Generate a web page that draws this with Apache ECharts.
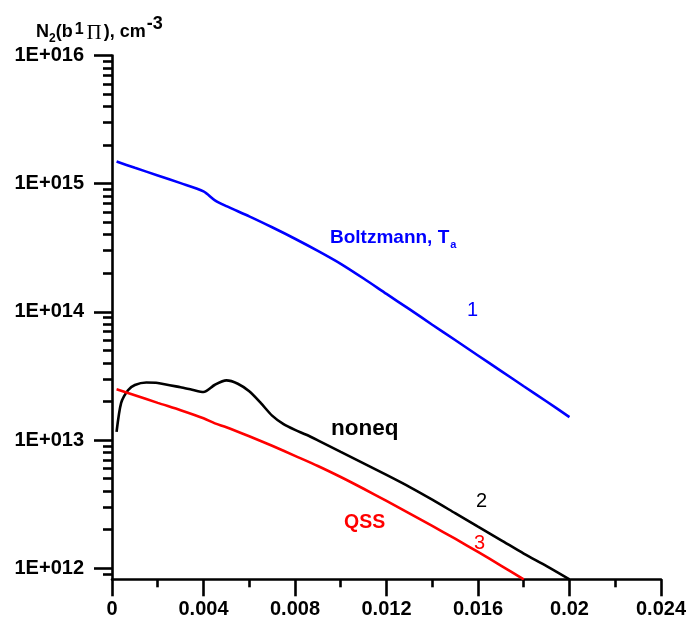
<!DOCTYPE html>
<html>
<head>
<meta charset="utf-8">
<script src="https://cdn.jsdelivr.net/npm/echarts@6/dist/echarts.min.js"></script>
<style>
  html, body { margin: 0; padding: 0; background: #ffffff; }
  #chart { width: 689px; height: 626px; }
</style>
</head>
<body>
<div id="chart"></div>
<script>
// Curve 1: Boltzmann population at T_a
const boltzmannX = [0.0002, 0.001, 0.002, 0.003, 0.004, 0.0045, 0.005, 0.006, 0.007, 0.008, 0.009, 0.010,
                    0.011, 0.012, 0.013, 0.014, 0.015, 0.016, 0.017, 0.018, 0.019, 0.020];
const boltzmannY = [1.49e15, 1.33e15, 1.16e15, 1.01e15, 8.71e14, 7.41e14, 6.68e14, 5.56e14, 4.57e14, 3.72e14, 2.99e14, 2.37e14,
                    1.82e14, 1.38e14, 1.05e14, 7.94e13, 6.03e13, 4.57e13, 3.47e13, 2.63e13, 2.00e13, 1.51e13];

// Curve 2: non-equilibrium solution
const noneqX = [0.0002, 0.0004, 0.0007, 0.001, 0.0015, 0.002, 0.003, 0.0035, 0.004, 0.0045, 0.005, 0.0055,
                0.006, 0.0065, 0.007, 0.0075, 0.008, 0.0085, 0.009, 0.010, 0.011, 0.012, 0.013,
                0.014, 0.015, 0.016, 0.017, 0.018, 0.019, 0.020];
const noneqY = [1.16e13, 1.95e13, 2.45e13, 2.69e13, 2.81e13, 2.79e13, 2.58e13, 2.47e13, 2.37e13, 2.70e13, 2.92e13, 2.75e13,
                2.40e13, 1.95e13, 1.55e13, 1.33e13, 1.20e13, 1.10e13, 9.95e12, 8.09e12, 6.58e12, 5.35e12, 4.32e12,
                3.43e12, 2.69e12, 2.11e12, 1.66e12, 1.30e12, 1.04e12, 8.20e11];

// Curve 3: quasi-steady-state approximation
const qssX = [0.0002, 0.001, 0.002, 0.003, 0.004, 0.0045, 0.005, 0.006, 0.007, 0.008, 0.009, 0.010,
              0.011, 0.012, 0.013, 0.014, 0.015, 0.016, 0.017, 0.018];
const qssY = [2.49e13, 2.24e13, 1.95e13, 1.71e13, 1.48e13, 1.35e13, 1.26e13, 1.07e13, 9.02e12, 7.53e12, 6.28e12, 5.15e12,
              4.17e12, 3.35e12, 2.68e12, 2.14e12, 1.70e12, 1.34e12, 1.05e12, 8.20e11];

// Axis ticks
const yMajorTicks = [1e12, 1e13, 1e14, 1e15, 1e16];
const yMinorMultipliers = [2, 3, 4, 5, 6, 7, 8, 9];
const xMin = 0, xMax = 0.024, xStep = 0.004;
const yMin = 8.2e11, yMax = 1e16;

const yMinorTicks = [9e11];
for (let i = 0; i < yMajorTicks.length - 1; i++) {
  yMinorMultipliers.forEach(m => yMinorTicks.push(m * yMajorTicks[i]));
}

const FONT = 'Arial, "Liberation Sans", sans-serif';
const SERIF = '"Liberation Serif", "Times New Roman", serif';
const pairs = (xs, ys) => xs.map((x, i) => [x, ys[i]]);

const chart = echarts.init(document.getElementById('chart'), null, { renderer: 'canvas' });

const lineSeries = (name, xs, ys, color) => ({
  name, type: 'line', data: pairs(xs, ys), showSymbol: false, smooth: 0.25,
  lineStyle: { color, width: 2.6 }, z: 3, animation: false
});

chart.setOption({
  animation: false,
  backgroundColor: '#ffffff',
  grid: { left: 112, right: 28, top: 55.5, bottom: 46.7, containLabel: false },
  xAxis: {
    type: 'value', min: xMin, max: xMax, interval: xStep,
    axisLine: { show: true, onZero: false, lineStyle: { color: '#000', width: 2.6 } },
    axisTick: { show: true, inside: false, length: 17, lineStyle: { color: '#000', width: 2.6 } },
    minorTick: { show: true, splitNumber: 2, length: 8, lineStyle: { color: '#000', width: 2.6 } },
    splitLine: { show: false },
    axisLabel: {
      margin: 20, color: '#000', fontSize: 20, fontWeight: 'bold', fontFamily: FONT,
      formatter: v => (v === 0 ? '0' : String(+v.toFixed(3)))
    }
  },
  yAxis: [
    {
      type: 'log', min: yMin, max: yMax, position: 'left',
      axisLine: { show: true, lineStyle: { color: '#000', width: 2.6 } },
      axisTick: { show: true, inside: false, length: 18, customValues: yMajorTicks,
                  lineStyle: { color: '#000', width: 2.6 } },
      splitLine: { show: false },
      axisLabel: {
        customValues: yMajorTicks, margin: 28, color: '#000', fontSize: 20, fontWeight: 'bold', fontFamily: FONT,
        formatter: v => '1E+' + String(Math.round(Math.log10(v))).padStart(3, '0')
      }
    },
    {
      type: 'log', min: yMin, max: yMax, position: 'left',
      axisLine: { show: false },
      axisTick: { show: true, inside: false, length: 9, customValues: yMinorTicks,
                  lineStyle: { color: '#000', width: 2.6 } },
      splitLine: { show: false },
      axisLabel: { show: false }
    }
  ],
  series: [
    lineSeries('1', boltzmannX, boltzmannY, '#0000ff'),
    lineSeries('2', noneqX, noneqY, '#000000'),
    lineSeries('3', qssX, qssY, '#ff0000')
  ],
  graphic: [
    {
      type: 'text', left: 36, top: 15, z: 10,
      style: {
        text: '{n|N}{sub|2}{n|(b}{sup1|1}{pi|Π}{n|), cm}{sup|-3}',
        rich: {
          n: { fontSize: 18, fontWeight: 'bold', fontFamily: FONT, fill: '#000', lineHeight: 34, verticalAlign: 'middle' },
          sub: { fontSize: 12, fontWeight: 'bold', fontFamily: FONT, fill: '#000', lineHeight: 12, verticalAlign: 'bottom', padding: [0, 0, 4, 0] },
          sup1: { fontSize: 16, fontWeight: 'bold', fontFamily: FONT, fill: '#000', lineHeight: 16, verticalAlign: 'top', padding: [7, 1, 0, 2] },
          pi: { fontSize: 21, fontFamily: SERIF, fill: '#000', lineHeight: 34, verticalAlign: 'middle', padding: [2, 2, 0, 2] },
          sup: { fontSize: 18, fontWeight: 'bold', fontFamily: FONT, fill: '#000', lineHeight: 18, verticalAlign: 'top', padding: [0, 0, 0, 1] }
        }
      }
    },
    {
      type: 'text', left: 330, top: 228, z: 10,
      style: {
        text: '{a|Boltzmann, T}{s|a}',
        rich: {
          a: { fontSize: 19, fontWeight: 'bold', fontFamily: FONT, fill: '#0000ff', lineHeight: 22, verticalAlign: 'top' },
          s: { fontSize: 11, fontWeight: 'bold', fontFamily: FONT, fill: '#0000ff', lineHeight: 22, verticalAlign: 'bottom', padding: [0, 0, 0, 1] }
        }
      }
    },
    { type: 'text', left: 467, top: 300, z: 10,
      style: { text: '1', fontSize: 20, fontFamily: FONT, fill: '#0000ff' } },
    { type: 'text', left: 331, top: 417, z: 10,
      style: { text: 'noneq', fontSize: 22.5, fontWeight: 'bold', fontFamily: FONT, fill: '#000' } },
    { type: 'text', left: 476, top: 491, z: 10,
      style: { text: '2', fontSize: 20, fontFamily: FONT, fill: '#000' } },
    { type: 'text', left: 344, top: 513, z: 10,
      style: { text: 'QSS', fontSize: 19.5, fontWeight: 'bold', fontFamily: FONT, fill: '#ff0000' } },
    { type: 'text', left: 474, top: 533, z: 10,
      style: { text: '3', fontSize: 20, fontFamily: FONT, fill: '#ff0000' } }
  ]
});
</script>
</body>
</html>
